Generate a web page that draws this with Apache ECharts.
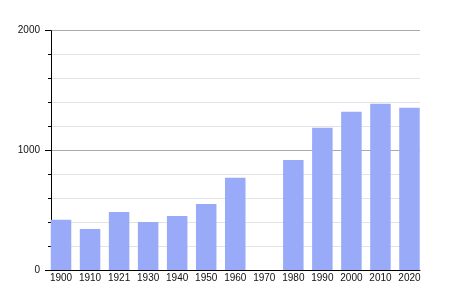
<!DOCTYPE html>
<html><head><meta charset="utf-8">
<script src="https://cdn.jsdelivr.net/npm/echarts@6/dist/echarts.min.js"></script>
<style>html,body{margin:0;padding:0;background:#fff}#c{width:450px;height:300px}</style>
</head><body><div id="c"></div>
<script>
const categories = ['1900','1910','1921','1930','1940','1950','1960','1970','1980','1990','2000','2010','2020'];
const population = [420, 343, 485, 402, 452, 552, 770, null, 920, 1188, 1322, 1389, 1356];
const yMin = 0, yMax = 2000, yStep = 1000;

const chart = echarts.init(document.getElementById('c'), null, {renderer:'canvas'});
const font = 'Liberation Sans, Arial, sans-serif';
chart.setOption({
  animation:false,
  grid:[
    {left:46.5, right:26, top:30.7, bottom:30},
    {left:51, right:30, top:30.7, bottom:30}
  ],
  xAxis:[
    {gridIndex:0, type:'category', data:categories, boundaryGap:true,
     axisLine:{show:false}, axisTick:{show:false},
     axisLabel:{interval:0, margin:3, color:'#111', fontSize:10, fontFamily:font}},
    {gridIndex:1, type:'value', min:0, max:1,
     axisLine:{show:true, lineStyle:{color:'#000', width:1}},
     axisTick:{show:false}, axisLabel:{show:false}, splitLine:{show:false}}
  ],
  yAxis:[
    {gridIndex:0, type:'value', min:yMin, max:yMax, show:false, splitLine:{show:false}},
    {gridIndex:1, type:'value', min:yMin, max:yMax, interval:yStep,
     axisLine:{show:true, lineStyle:{color:'#000', width:1}},
     axisTick:{show:true, length:6, lineStyle:{color:'#000'}},
     minorTick:{show:true, splitNumber:5, length:3, lineStyle:{color:'#000'}},
     axisLabel:{margin:11, color:'#111', fontSize:10, fontFamily:font, formatter:v => String(v)},
     splitLine:{show:true, lineStyle:{color:'#aaaaaa', width:1}},
     minorSplitLine:{show:true, lineStyle:{color:'#e3e3e3', width:1}}}
  ],
  series:[{
    type:'bar', xAxisIndex:0, yAxisIndex:0, data:population,
    barWidth:20.5, itemStyle:{color:'#99aaf8'}, z:3
  }]
});
</script></body></html>
